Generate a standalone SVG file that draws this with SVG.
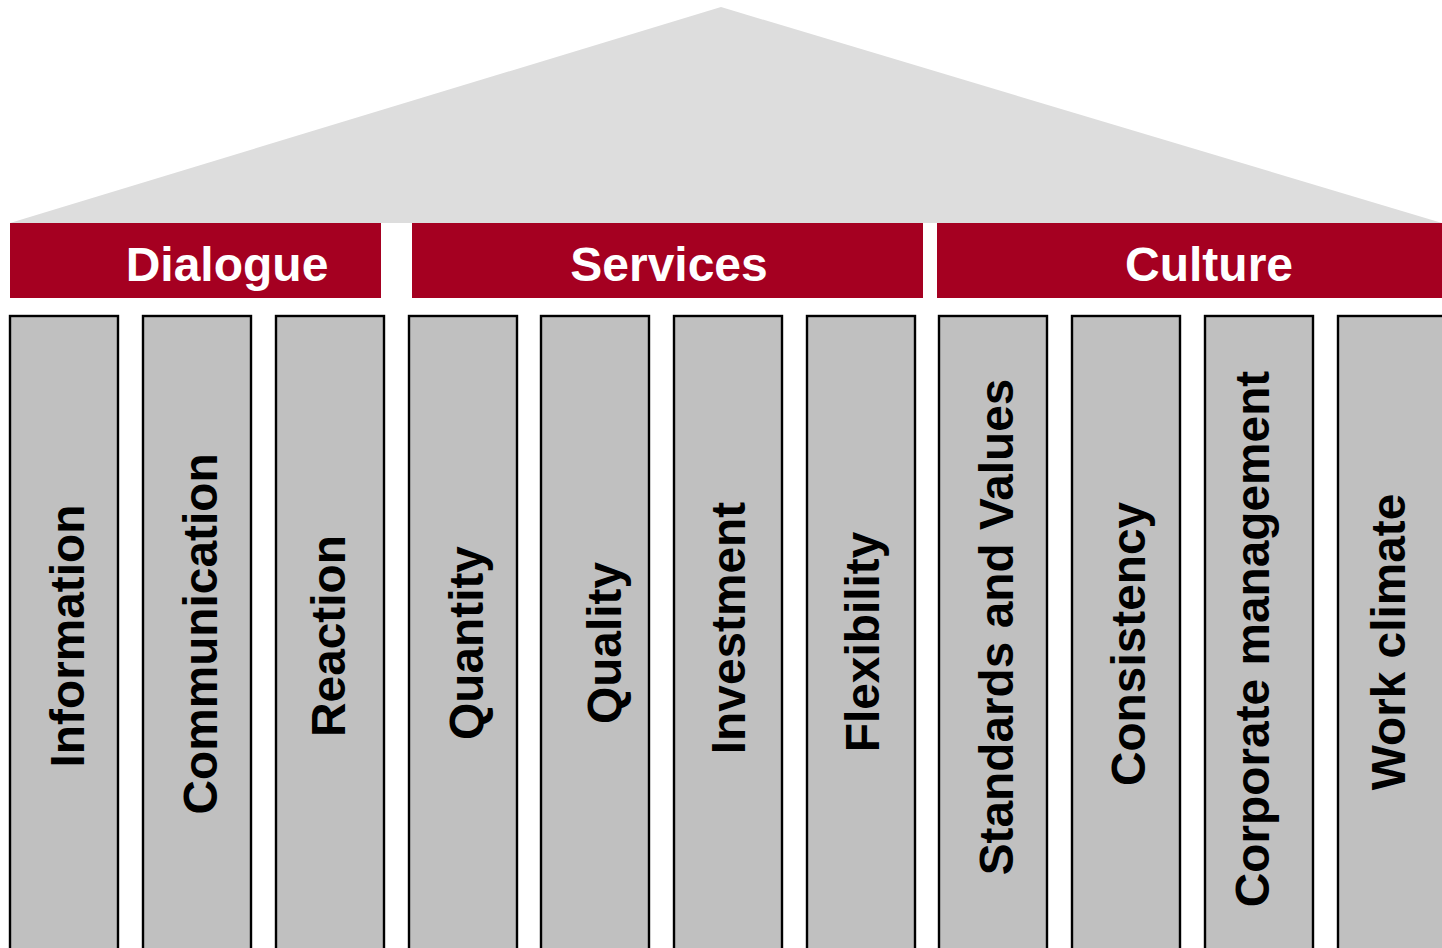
<svg xmlns="http://www.w3.org/2000/svg" width="1442" height="948" viewBox="0 0 1442 948">
<style>
.banner{fill:#A50021}
.btxt{font-family:"Liberation Sans",Arial,sans-serif;font-weight:bold;font-size:48px;fill:#FFFFFF;text-anchor:middle}
.col{fill:#C0C0C0;stroke:#000000;stroke-width:2.4}
.ctxt{font-family:"Liberation Sans",Arial,sans-serif;font-weight:bold;font-size:47.8px;fill:#000000;text-anchor:middle}
</style>
<rect x="0" y="0" width="1442" height="948" fill="#FFFFFF"/>
<g id="roof"><polygon points="10,223 721,7 1442,223" fill="#DDDDDD"/></g>
<g id="dialogue"><rect class="banner" x="10" y="223" width="371" height="75"/><text class="btxt" x="227" y="281">Dialogue</text></g>
<g id="services"><rect class="banner" x="412" y="223" width="511" height="75"/><text class="btxt" x="669" y="281">Services</text></g>
<g id="culture"><rect class="banner" x="937" y="223" width="505" height="75"/><text class="btxt" x="1209" y="281">Culture</text></g>
<g id="information"><rect class="col" x="10" y="316" width="108" height="650"/><text class="ctxt" transform="translate(84,636) rotate(-90)">Information</text></g>
<g id="communication"><rect class="col" x="143" y="316" width="108" height="650"/><text class="ctxt" transform="translate(217,634) rotate(-90)">Communication</text></g>
<g id="reaction"><rect class="col" x="276" y="316" width="108" height="650"/><text class="ctxt" transform="translate(345,636) rotate(-90)">Reaction</text></g>
<g id="quantity"><rect class="col" x="409" y="316" width="108" height="650"/><text class="ctxt" transform="translate(483,643) rotate(-90)">Quantity</text></g>
<g id="quality"><rect class="col" x="541" y="316" width="108" height="650"/><text class="ctxt" transform="translate(621,643) rotate(-90)">Quality</text></g>
<g id="investment"><rect class="col" x="674" y="316" width="108" height="650"/><text class="ctxt" transform="translate(745,628) rotate(-90)">Investment</text></g>
<g id="flexibility"><rect class="col" x="807" y="316" width="108" height="650"/><text class="ctxt" transform="translate(879,642) rotate(-90)">Flexibility</text></g>
<g id="standards"><rect class="col" x="939" y="316" width="108" height="650"/><text class="ctxt" transform="translate(1013,627) rotate(-90)">Standards and Values</text></g>
<g id="consistency"><rect class="col" x="1072" y="316" width="108" height="650"/><text class="ctxt" transform="translate(1145,644) rotate(-90)">Consistency</text></g>
<g id="corporate"><rect class="col" x="1205" y="316" width="108" height="650"/><text class="ctxt" transform="translate(1269,639) rotate(-90)">Corporate management</text></g>
<g id="workclimate"><rect class="col" x="1338" y="316" width="108" height="650"/><text class="ctxt" transform="translate(1405,642) rotate(-90)">Work climate</text></g>
<g id="connectors"></g>
</svg>
